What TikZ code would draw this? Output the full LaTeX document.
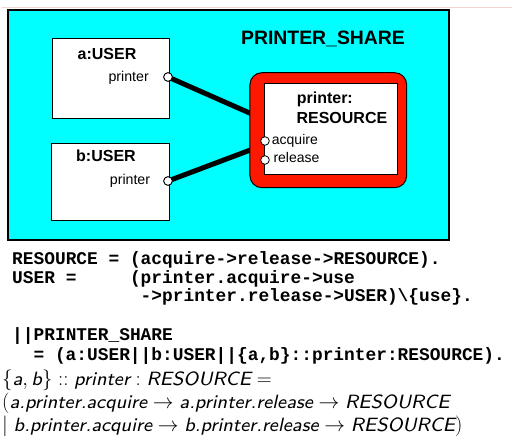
\documentclass[tikz,border=0pt]{standalone}
\usepackage{fontspec}
\newfontfamily\arialf{Liberation Sans}
\newfontfamily\codef{Liberation Mono}
\newfontfamily\lmsio{lmsans8-oblique}[Extension=.otf]
\definecolor{cyanfill}{RGB}{0,255,255}
\definecolor{resred}{RGB}{255,24,0}
\definecolor{pinkline}{RGB}{242,214,214}
\newcommand\mi[1]{\mbox{\lmsio #1}}
\tikzset{
  userbox/.style={draw=black, fill=white, line width=1pt, inner sep=0pt},
  portc/.style={circle, draw=black, fill=white, line width=0.8pt, inner sep=0pt, minimum size=8.6pt},
  wire/.style={line width=5pt},
  lbl/.style={inner sep=0pt, font=\arialf\fontsize{14.2}{16}\selectfont},
  title/.style={inner sep=0pt, font=\arialf\bfseries\fontsize{16}{18}\selectfont},
  codeline/.style={inner sep=0pt, anchor=base west, font=\codef\bfseries\fontsize{17.85}{19}\selectfont},
  mathline/.style={inner sep=0pt, anchor=base west, font=\fontsize{19.2}{23}\selectfont},
}
\begin{document}
\begin{tikzpicture}[x=1pt, y=-1pt]
\useasboundingbox (0,0) rectangle (522,447);
% faint top rule
\coordinate (ruleL) at (2,7);
\coordinate (ruleR) at (512,7);
\draw[pinkline, line width=0.8pt] (ruleL) -- (ruleR);
% outer system box
\node[draw=black, fill=cyanfill, line width=1.2pt, minimum width=441pt, minimum height=230pt, inner sep=0pt] (share) at (228.5,125) {};
\node[inner sep=0pt, anchor=base, font=\arialf\bfseries\fontsize{19.4}{21}\selectfont] (sharet) at (323,44.3) {PRINTER\_SHARE};
% users
\node[userbox, minimum width=116.7pt, minimum height=79.7pt] (ua) at (110.7,78.2) {};
\node[userbox, minimum width=117.6pt, minimum height=76.7pt] (ub) at (110.5,182.3) {};
\node[title, anchor=base] (uat) at (107,59.3) {a:USER};
\node[title, anchor=base] (ubt) at (106,161.7) {b:USER};
\node[lbl, anchor=base] (uap) at (128.7,81) {printer};
\node[lbl, anchor=base] (ubp) at (130,184) {printer};
% wire ends at resource
\coordinate (ea) at (253,114.5);
\coordinate (eb) at (253,149);
\node[portc] (pa) at (168,77) {};
\node[portc] (pb) at (168,181) {};
\draw[wire] (pa.center) -- (ea);
\draw[wire] (pb.center) -- (eb);
\node[portc] at (pa) {};
\node[portc] at (pb) {};
% resource
\node[draw=black, fill=resred, line width=1pt, rounded corners=12pt, minimum width=156.7pt, minimum height=115pt, inner sep=0pt] (res) at (328.3,130.2) {};
\node[draw=black, fill=white, line width=1pt, minimum width=133pt, minimum height=90.7pt, inner sep=0pt] (resin) at (330.8,128.7) {};
\node[title, anchor=base west] (rt1) at (296.6,103.3) {printer:};
\node[title, anchor=base west] (rt2) at (296.4,123.7) {RESOURCE};
\node[lbl, anchor=base west, font=\arialf\fontsize{14}{16}\selectfont] (acq) at (271.7,144.3) {acquire};
\node[lbl, anchor=base west, font=\arialf\fontsize{14}{16}\selectfont] (rel) at (273.3,162.3) {release};
\node[portc] (pacq) at (265,141) {};
\node[portc] (prel) at (265,160) {};
% FSP code
\node[codeline] (c1) at (12,264) {RESOURCE = (acquire->release->RESOURCE).};
\node[codeline] (c2a) at (12,283) {USER =};
\node[codeline] (c2b) at (129.8,283) {(printer.acquire->use};
\node[codeline] (c3) at (140.5,301.5) {->printer.release->USER)\textbackslash\{use\}.};
\node[codeline] (c4) at (12,340) {||PRINTER\_SHARE};
\node[codeline] (c5) at (33.4,360) {= (a:USER||b:USER||\{a,b\}::printer:RESOURCE).};
% semantics
\node[mathline] (m1) at (2,385) {$\{\mi{a}, \mi{b}\} :: \mi{printer} : \mi{RESOURCE} =$};
\node[mathline] (m2) at (2,408) {$(\mi{a.printer.acquire} \rightarrow \mi{a.printer.release} \rightarrow \mi{RESOURCE}$};
\node[mathline] (m3) at (2,431.7) {$\mid \mi{b.printer.acquire} \rightarrow \mi{b.printer.release} \rightarrow \mi{RESOURCE})$};
\end{tikzpicture}
\end{document}
